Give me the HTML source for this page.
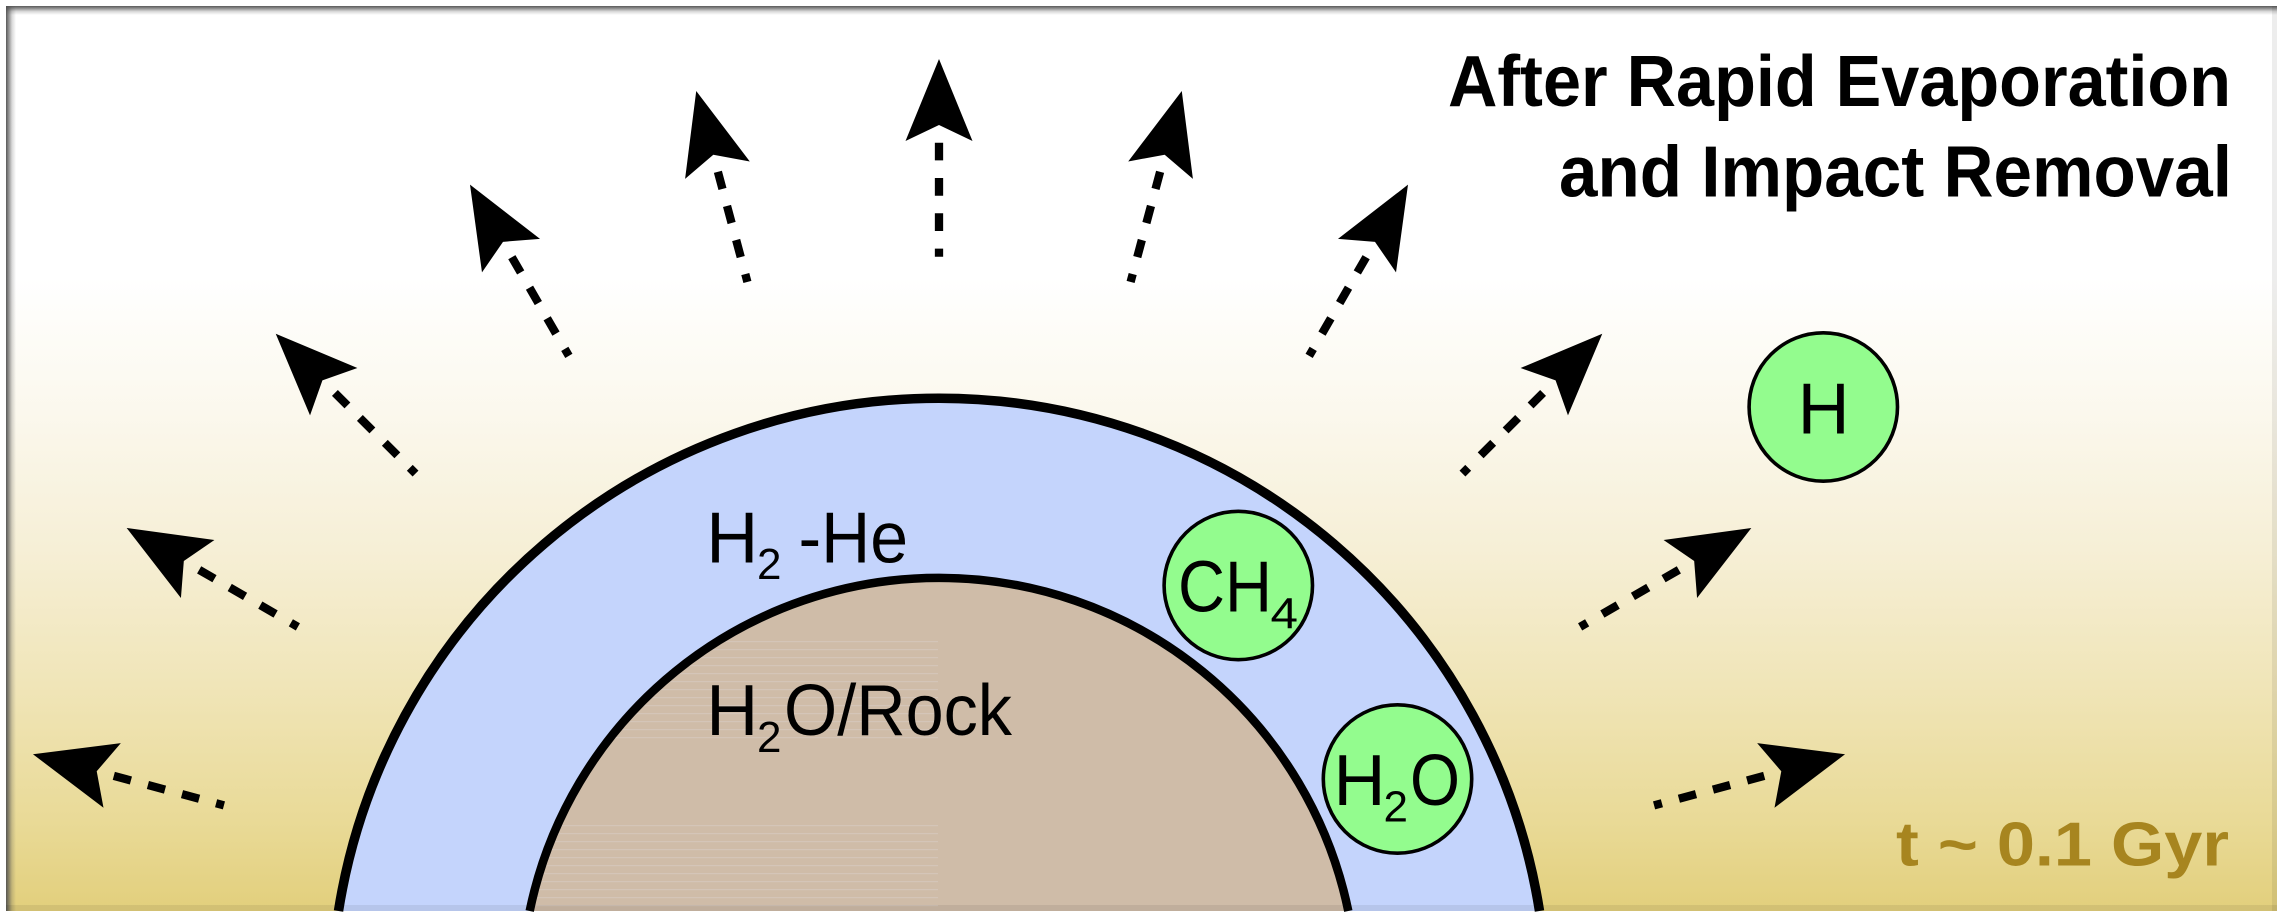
<!DOCTYPE html>
<html>
<head>
<meta charset="utf-8">
<style>
  html, body { margin: 0; padding: 0; background: #ffffff; overflow: hidden; width: 2284px; height: 918px; }
  svg { display: block; }
  text { font-family: "Liberation Sans", "DejaVu Sans", sans-serif; }
</style>
</head>
<body>
<svg width="2284" height="918" viewBox="0 0 2284 918" xmlns="http://www.w3.org/2000/svg">
  <defs>
    <linearGradient id="bg" gradientUnits="userSpaceOnUse" x1="0" y1="6" x2="0" y2="911">
      <stop offset="0" stop-color="#ffffff"/>
      <stop offset="0.30" stop-color="#ffffff"/>
      <stop offset="0.45" stop-color="#fbf8ed"/>
      <stop offset="0.60" stop-color="#f6efd6"/>
      <stop offset="0.75" stop-color="#f0e5b8"/>
      <stop offset="0.90" stop-color="#e9da97"/>
      <stop offset="1" stop-color="#e2cf7c"/>
    </linearGradient>
    <linearGradient id="topEdge" x1="0" y1="0" x2="0" y2="1">
      <stop offset="0" stop-color="#505050" stop-opacity="0.95"/>
      <stop offset="0.3" stop-color="#505050" stop-opacity="0.6"/>
      <stop offset="0.6" stop-color="#505050" stop-opacity="0.22"/>
      <stop offset="1" stop-color="#505050" stop-opacity="0"/>
    </linearGradient>
    <linearGradient id="leftEdge" x1="0" y1="0" x2="1" y2="0">
      <stop offset="0" stop-color="#505050" stop-opacity="0.95"/>
      <stop offset="0.3" stop-color="#505050" stop-opacity="0.6"/>
      <stop offset="0.6" stop-color="#505050" stop-opacity="0.22"/>
      <stop offset="1" stop-color="#505050" stop-opacity="0"/>
    </linearGradient>
    <pattern id="stripes" patternUnits="userSpaceOnUse" x="0" y="641" width="20" height="8">
      <rect x="0" y="0" width="20" height="1.2" fill="#dbd2cf"/>
    </pattern>
    <clipPath id="innerClip">
      <path d="M 529.7 911 A 418 418 0 0 1 1348.3 911 Z"/>
    </clipPath>
    <g id="arr">
      <line x1="854.3" y1="0" x2="740.3" y2="0" stroke="#000" stroke-width="8.3" stroke-dasharray="17.7 17.6"/>
      <polygon points="938,0 856,-33.5 872,0 856,33.5" fill="#000"/>
    </g>
  </defs>

  <rect x="6" y="6" width="2271" height="905" fill="url(#bg)"/>

  <path d="M 338.5 911 A 608 608 0 0 1 1539.5 911 Z" fill="#c4d4fc"/>
  <path d="M 338.5 911 A 608 608 0 0 1 1539.5 911" fill="none" stroke="#000" stroke-width="9.5"/>
  <path d="M 529.7 911 A 418 418 0 0 1 1348.3 911 Z" fill="#cfbca8"/>
  <g clip-path="url(#innerClip)" opacity="0.4">
    <rect x="500" y="640" width="438" height="100" fill="url(#stripes)"/>
    <rect x="500" y="821" width="438" height="88" fill="url(#stripes)"/>
  </g>
  <path d="M 529.7 911 A 418 418 0 0 1 1348.3 911" fill="none" stroke="#000" stroke-width="8.5"/>

  <circle cx="1238.3" cy="585.5" r="74.2" fill="#93fc8e" stroke="#000" stroke-width="3.6"/>
  <circle cx="1397.5" cy="779" r="74.2" fill="#93fc8e" stroke="#000" stroke-width="3.6"/>
  <circle cx="1823.3" cy="407" r="74.2" fill="#93fc8e" stroke="#000" stroke-width="3.6"/>

  <g fill="#000">
    <text x="706.3" y="562.5" font-size="72">H</text>
    <text x="757" y="579" font-size="44">2</text>
    <text x="798.5" y="562.5" font-size="72" textLength="109.5" lengthAdjust="spacingAndGlyphs">-He</text>
    <text x="706.3" y="735" font-size="72">H</text>
    <text x="757" y="752" font-size="44">2</text>
    <text x="784" y="735" font-size="72" textLength="228" lengthAdjust="spacingAndGlyphs">O/Rock</text>
    <text x="1178" y="611.7" font-size="72" textLength="94" lengthAdjust="spacingAndGlyphs">CH</text>
    <text x="1270.5" y="628.3" font-size="44" textLength="27.5" lengthAdjust="spacingAndGlyphs">4</text>
    <text x="1333.5" y="805" font-size="72">H</text>
    <text x="1383.5" y="821.7" font-size="44">2</text>
    <text x="1410" y="805" font-size="72" textLength="50" lengthAdjust="spacingAndGlyphs">O</text>
    <text x="1797.6" y="433.3" font-size="72">H</text>
  </g>

  <g fill="#000" font-weight="bold">
    <text x="1448" y="106" font-size="72" textLength="783" lengthAdjust="spacingAndGlyphs">After Rapid Evaporation</text>
    <text x="1559" y="196.7" font-size="72" textLength="673" lengthAdjust="spacingAndGlyphs">and Impact Removal</text>
  </g>
  <text x="1896" y="865.4" font-size="62" font-weight="bold" fill="#a7851f" textLength="333" lengthAdjust="spacingAndGlyphs">t ~ 0.1 Gyr</text>

  <use href="#arr" transform="translate(939 997) rotate(-165)"/>
  <use href="#arr" transform="translate(939 997) rotate(-150)"/>
  <use href="#arr" transform="translate(939 997) rotate(-135)"/>
  <use href="#arr" transform="translate(939 997) rotate(-120)"/>
  <use href="#arr" transform="translate(939 997) rotate(-105)"/>
  <use href="#arr" transform="translate(939 997) rotate(-90)"/>
  <use href="#arr" transform="translate(939 997) rotate(-75)"/>
  <use href="#arr" transform="translate(939 997) rotate(-60)"/>
  <use href="#arr" transform="translate(939 997) rotate(-45)"/>
  <use href="#arr" transform="translate(939 997) rotate(-30)"/>
  <use href="#arr" transform="translate(939 997) rotate(-15)"/>

  <rect x="6" y="6" width="2271" height="9" fill="url(#topEdge)"/>
  <rect x="6" y="6" width="10" height="905" fill="url(#leftEdge)"/>
  <rect x="2272" y="6" width="5" height="905" fill="#000" opacity="0.07"/>
  <rect x="6" y="905" width="2271" height="6" fill="#000" opacity="0.07"/>
</svg>
</body>
</html>
